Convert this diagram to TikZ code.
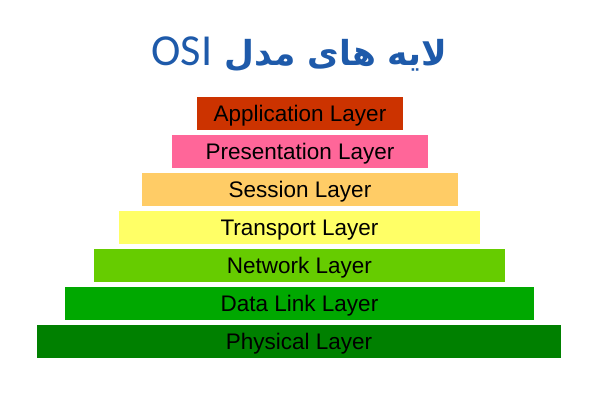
\documentclass[tikz,border=0pt]{standalone}
\usepackage{fontspec}
\setmainfont{Liberation Sans}
\newfontfamily\arabicfont[Script=Arabic]{DejaVu Sans}
\newfontfamily\latinttl{Carlito}
\TeXXeTstate=1
\definecolor{appc}{HTML}{CC3300}
\definecolor{presc}{HTML}{FF6699}
\definecolor{sessc}{HTML}{FFCC66}
\definecolor{transc}{HTML}{FFFF66}
\definecolor{netc}{HTML}{66CC00}
\definecolor{dlc}{HTML}{00A800}
\definecolor{physc}{HTML}{008000}
\definecolor{titlec}{HTML}{1E5AAA}
\begin{document}
\begin{tikzpicture}[x=0.025cm,y=-0.025cm,
  layerbar/.style={draw=none,minimum height=0.825cm,inner sep=0pt,outer sep=0pt,
    text depth=0pt,font=\fontsize{16}{19}\selectfont,text=black}]
\useasboundingbox[fill=white] (0,0) rectangle (600,400);
\node[anchor=base,text=titlec,inner sep=0pt] (title) at (299.5,65.5)
  {\arabicfont\bfseries\fontsize{24.5}{28}\selectfont\beginR لایه های مدل \beginL{\latinttl\mdseries\fontsize{31.5}{36}\selectfont OSI}\endL\endR};
\node[layerbar,fill=appc,minimum width=5.15cm] (app) at (300,113.5) {Application Layer};
\node[layerbar,fill=presc,minimum width=6.4cm] (pres) at (300,151.5) {Presentation Layer};
\node[layerbar,fill=sessc,minimum width=7.9cm] (sess) at (300,189.5) {Session Layer};
\node[layerbar,fill=transc,minimum width=9.025cm] (trans) at (299.5,227.5) {Transport Layer};
\node[layerbar,fill=netc,minimum width=10.275cm] (net) at (299.5,265.5) {Network Layer};
\node[layerbar,fill=dlc,minimum width=11.725cm] (dl) at (299.5,303.5) {Data Link Layer};
\node[layerbar,fill=physc,minimum width=13.1cm] (phys) at (299,341.5) {Physical Layer};
\end{tikzpicture}
\end{document}
